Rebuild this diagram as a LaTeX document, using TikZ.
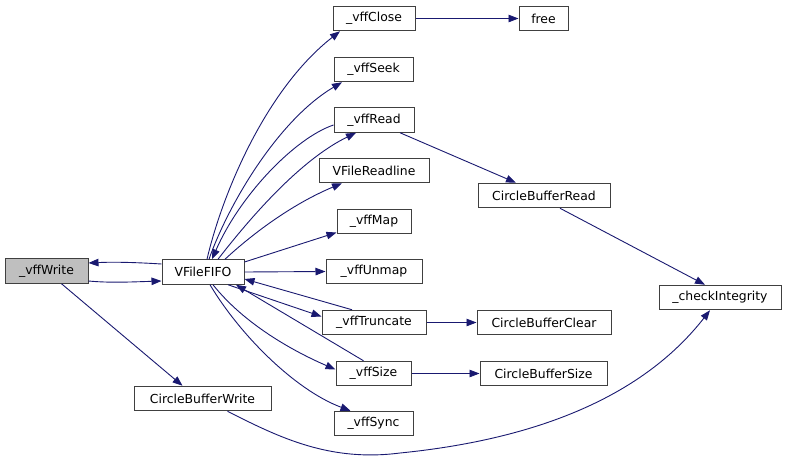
\documentclass[tikz,border=0pt]{standalone}
\usepackage{fontspec}
\setmainfont{DejaVu Sans}
\usetikzlibrary{arrows.meta}
\definecolor{edgecol}{HTML}{191970}
\definecolor{boxcol}{HTML}{404040}
\tikzset{
  fn/.style={draw=boxcol, line width=1pt, fill=white, rectangle, inner sep=0pt,
    minimum height=24.5pt, font=\fontsize{12.4}{14}\selectfont},
  cur/.style={fn, fill=black!25},
  call/.style={draw=edgecol, line width=0.9pt, -{Triangle[length=10pt,width=7.5pt]}, edgecol}
}
\begin{document}
\begin{tikzpicture}[x=1pt,y=-1pt]
\useasboundingbox (0,0) rectangle (787,461);
\node[cur, minimum width=83pt] (write) at (46.5,271) {\_vffWrite};
\node[fn, minimum width=82pt] (fifo) at (203,272) {VFileFIFO};
\node[fn, minimum width=82pt] (close) at (374,18.5) {\_vffClose};
\node[fn, minimum width=79pt] (seek) at (373.5,69.5) {\_vffSeek};
\node[fn, minimum width=80pt] (read) at (374,120) {\_vffRead};
\node[fn, minimum width=110pt] (readline) at (374,170.5) {VFileReadline};
\node[fn, minimum width=74pt] (map) at (374,221.5) {\_vffMap};
\node[fn, minimum width=96pt] (unmap) at (374,271.5) {\_vffUnmap};
\node[fn, minimum width=104pt] (trunc) at (374,322.5) {\_vffTruncate};
\node[fn, minimum width=75pt] (size) at (373.5,373.5) {\_vffSize};
\node[fn, minimum width=79pt] (sync) at (373.5,423.5) {\_vffSync};
\node[fn, minimum width=137pt] (cbw) at (202.5,398.5) {CircleBufferWrite};
\node[fn, minimum width=49pt] (free) at (543.5,18.5) {free};
\node[fn, minimum width=132pt] (cbr) at (544,195.5) {CircleBufferRead};
\node[fn, minimum width=122pt] (check) at (720,297.5) {\_checkIntegrity};
\node[fn, minimum width=134pt] (cbc) at (544,322.5) {CircleBufferClear};
\node[fn, minimum width=127pt] (cbs) at (543.5,373.5) {CircleBufferSize};

% _vffWrite <-> VFileFIFO
\draw[call] ([yshift=8pt]fifo.west) .. controls (130,262) and (110,262) .. ([yshift=8pt]write.east);
\draw[call] ([yshift=-10pt]write.east) .. controls (110,283) and (130,282) .. ([yshift=-9pt]fifo.west);
\draw[call] ([xshift=15pt]write.south) -- ([xshift=-20pt]cbw.north);

% VFileFIFO fan-out upward
\draw[call] ([xshift=4pt]fifo.north) .. controls (222,195) and (265,90) .. ([xshift=-34pt]close.south);
\draw[call] ([xshift=6pt]fifo.north) .. controls (228,205) and (278,120) .. ([xshift=-31.5pt]seek.south);
\draw[call] ([yshift=-5pt]read.west) .. controls (295,138) and (240,195) .. ([xshift=9pt]fifo.north);
\draw[call] ([xshift=15pt]fifo.north) .. controls (250,218) and (300,160) .. ([xshift=-18pt]read.south);
\draw[call] ([xshift=22pt]fifo.north) .. controls (250,236) and (290,205) .. ([xshift=-32pt]readline.south);
\draw[call] ([yshift=10pt]fifo.east) -- ([yshift=-11pt]map.west);
\draw[call] (fifo.east) -- (unmap.west);

% VFileFIFO <-> _vffTruncate, _vffSize, _vffSync
\draw[call] ([xshift=-22pt]trunc.north) -- ([yshift=-7pt]fifo.east);
\draw[call] ([xshift=25pt]fifo.south) -- ([yshift=6pt]trunc.west);
\draw[call] ([xshift=-10pt]size.north) -- ([xshift=33pt]fifo.south);
\draw[call] ([xshift=10pt]fifo.south) .. controls (245,325) and (295,352) .. ([yshift=4pt]size.west);
\draw[call] ([xshift=7pt]fifo.south) .. controls (240,335) and (295,390) .. ([xshift=-23pt]sync.north);

% second level
\draw[call] (close.east) -- (free.west);
\draw[call] ([xshift=26pt]read.south) -- ([xshift=-28pt]cbr.north);
\draw[call] ([xshift=16pt]cbr.south) -- ([xshift=-15pt]check.north);
\draw[call] (trunc.east) -- (cbc.west);
\draw[call] (size.east) -- (cbs.west);
\draw[call] ([xshift=25pt]cbw.south) .. controls (280,438) and (330,462) .. (400,453)
  .. controls (530,440) and (640,400) .. ([xshift=-10pt]check.south);
\end{tikzpicture}
\end{document}
